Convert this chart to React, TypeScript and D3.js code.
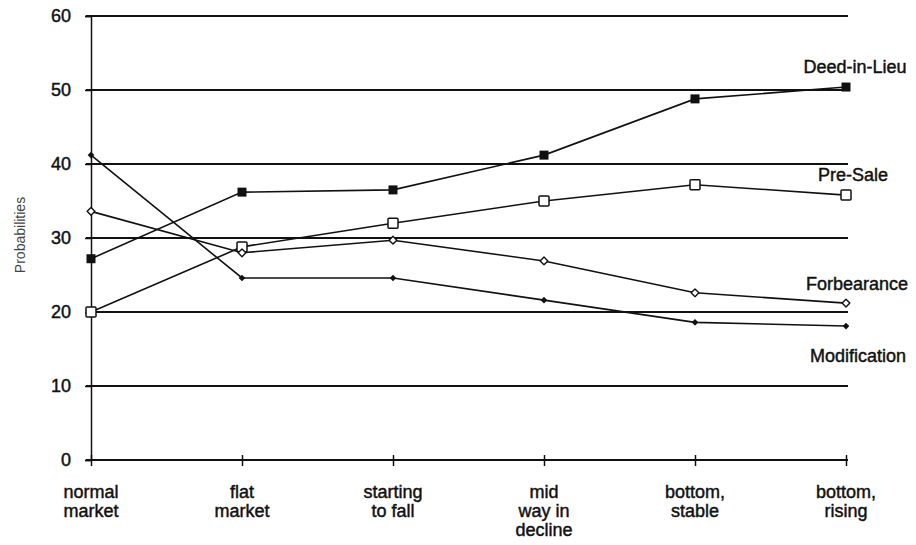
import { useEffect, useRef } from "react";
import * as d3 from "d3";

const categories = [
  ["normal", "market"],
  ["flat", "market"],
  ["starting", "to fall"],
  ["mid", "way in", "decline"],
  ["bottom,", "stable"],
  ["bottom,", "rising"],
];

const deedInLieu = [27.2, 36.2, 36.5, 41.2, 48.8, 50.4];
const preSale = [20.0, 28.8, 32.0, 35.0, 37.2, 35.8];
const forbearance = [33.6, 28.0, 29.7, 26.9, 22.6, 21.2];
const modification = [41.2, 24.6, 24.6, 21.6, 18.6, 18.1];

const yTicks = [0, 10, 20, 30, 40, 50, 60];

const seriesNames = ["Deed-in-Lieu", "Pre-Sale", "Forbearance", "Modification"];

type Marker = "filledSquare" | "openSquare" | "openDiamond" | "filledDiamond";

export default function App() {
  const svgRef = useRef<SVGSVGElement>(null);

  useEffect(() => {
    if (!svgRef.current) return;
    const width = 916;
    const height = 545;
    const svg = d3.select(svgRef.current);
    svg.selectAll("*").remove();
    svg.attr("width", width).attr("height", height);

    const font = "Arial, 'Liberation Sans', sans-serif";
    const ink = "#111";

    const x = d3
      .scalePoint<number>()
      .domain(d3.range(categories.length))
      .range([91, 846]);
    const y = d3.scaleLinear().domain([0, 60]).range([460, 16]);

    // scanned look: slightly heavier text
    const styleText = (sel: d3.Selection<any, any, any, any>, size: number) =>
      sel
        .attr("fill", ink)
        .attr("stroke", ink)
        .attr("stroke-width", 0.45)
        .style("font-family", font)
        .style("font-size", `${size}px`);

    // gridlines
    svg
      .append("g")
      .selectAll("line")
      .data(yTicks.filter((t) => t > 0))
      .join("line")
      .attr("x1", 86)
      .attr("x2", 848)
      .attr("y1", (d) => y(d))
      .attr("y2", (d) => y(d))
      .attr("stroke", ink)
      .attr("stroke-width", 2);

    // y axis
    const yAxis = svg
      .append("g")
      .attr("transform", `translate(${x(0)},0)`)
      .call(d3.axisLeft(y).tickValues(yTicks).tickSize(6).tickPadding(14));
    yAxis.select(".domain").attr("stroke", ink).attr("stroke-width", 1.5);
    yAxis.selectAll(".tick line").attr("stroke", ink).attr("stroke-width", 1.5);
    styleText(yAxis.selectAll(".tick text"), 18);

    // x axis
    const xAxis = svg
      .append("g")
      .attr("transform", `translate(0,${y(0)})`)
      .call(d3.axisBottom(x).tickSize(6).tickFormat(() => ""));
    xAxis.select(".domain").attr("stroke", ink).attr("stroke-width", 2).attr("d", `M86,0H848`);
    xAxis
      .selectAll(".tick line")
      .attr("y1", -5)
      .attr("y2", 6)
      .attr("stroke", ink)
      .attr("stroke-width", 1.5);

    const catLabels = svg
      .append("g")
      .selectAll("text")
      .data(categories)
      .join("text")
      .attr("transform", (_, i) => `translate(${x(i)},${y(0) + 38})`)
      .attr("text-anchor", "middle");
    styleText(catLabels, 18);
    catLabels.each(function (lines) {
      d3.select(this)
        .selectAll("tspan")
        .data(lines)
        .join("tspan")
        .attr("x", 0)
        .attr("dy", (_, j) => (j === 0 ? 0 : 19))
        .text((t) => t);
    });

    // y label
    svg
      .append("text")
      .attr("transform", `translate(25,235) rotate(-90)`)
      .attr("text-anchor", "middle")
      .attr("fill", "#444")
      .style("font-family", font)
      .style("font-size", "14px")
      .text("Probabilities");

    const series: { name: string; values: number[]; marker: Marker; label: [number, number] }[] = [
      { name: seriesNames[0], values: deedInLieu, marker: "filledSquare", label: [855, 73] },
      { name: seriesNames[1], values: preSale, marker: "openSquare", label: [853, 181] },
      { name: seriesNames[2], values: forbearance, marker: "openDiamond", label: [857, 290] },
      { name: seriesNames[3], values: modification, marker: "filledDiamond", label: [858, 362] },
    ];

    const line = d3
      .line<number>()
      .x((_, i) => x(i) ?? 0)
      .y((d) => y(d));

    series.forEach((s) => {
      const g = svg.append("g");
      g.append("path")
        .attr("d", line(s.values))
        .attr("fill", "none")
        .attr("stroke", ink)
        .attr("stroke-width", 1.6);

      const pts = g
        .selectAll("g.pt")
        .data(s.values)
        .join("g")
        .attr("class", "pt")
        .attr("transform", (d, i) => `translate(${x(i)},${y(d)})`);

      if (s.marker === "filledSquare") {
        pts.append("rect").attr("x", -4.5).attr("y", -4.5).attr("width", 9).attr("height", 9).attr("fill", ink);
      } else if (s.marker === "openSquare") {
        pts
          .append("rect")
          .attr("x", -5)
          .attr("y", -5)
          .attr("width", 10)
          .attr("height", 10)
          .attr("rx", 1)
          .attr("fill", "#fff")
          .attr("stroke", ink)
          .attr("stroke-width", 1.5);
      } else if (s.marker === "openDiamond") {
        pts
          .append("path")
          .attr("d", d3.symbol(d3.symbolSquare, 30)())
          .attr("transform", "rotate(45)")
          .attr("fill", "#fff")
          .attr("stroke", ink)
          .attr("stroke-width", 1.4)
          .attr("stroke-linejoin", "round");
      } else {
        pts
          .append("path")
          .attr("d", d3.symbol(d3.symbolSquare, 22)())
          .attr("transform", "rotate(45)")
          .attr("fill", ink);
      }

      styleText(
        svg
          .append("text")
          .attr("x", s.label[0])
          .attr("y", s.label[1])
          .attr("text-anchor", "middle")
          .text(s.name),
        18
      );
    });
  }, []);

  return <svg ref={svgRef} style={{ display: "block", margin: -8, background: "#fff" }} />;
}
